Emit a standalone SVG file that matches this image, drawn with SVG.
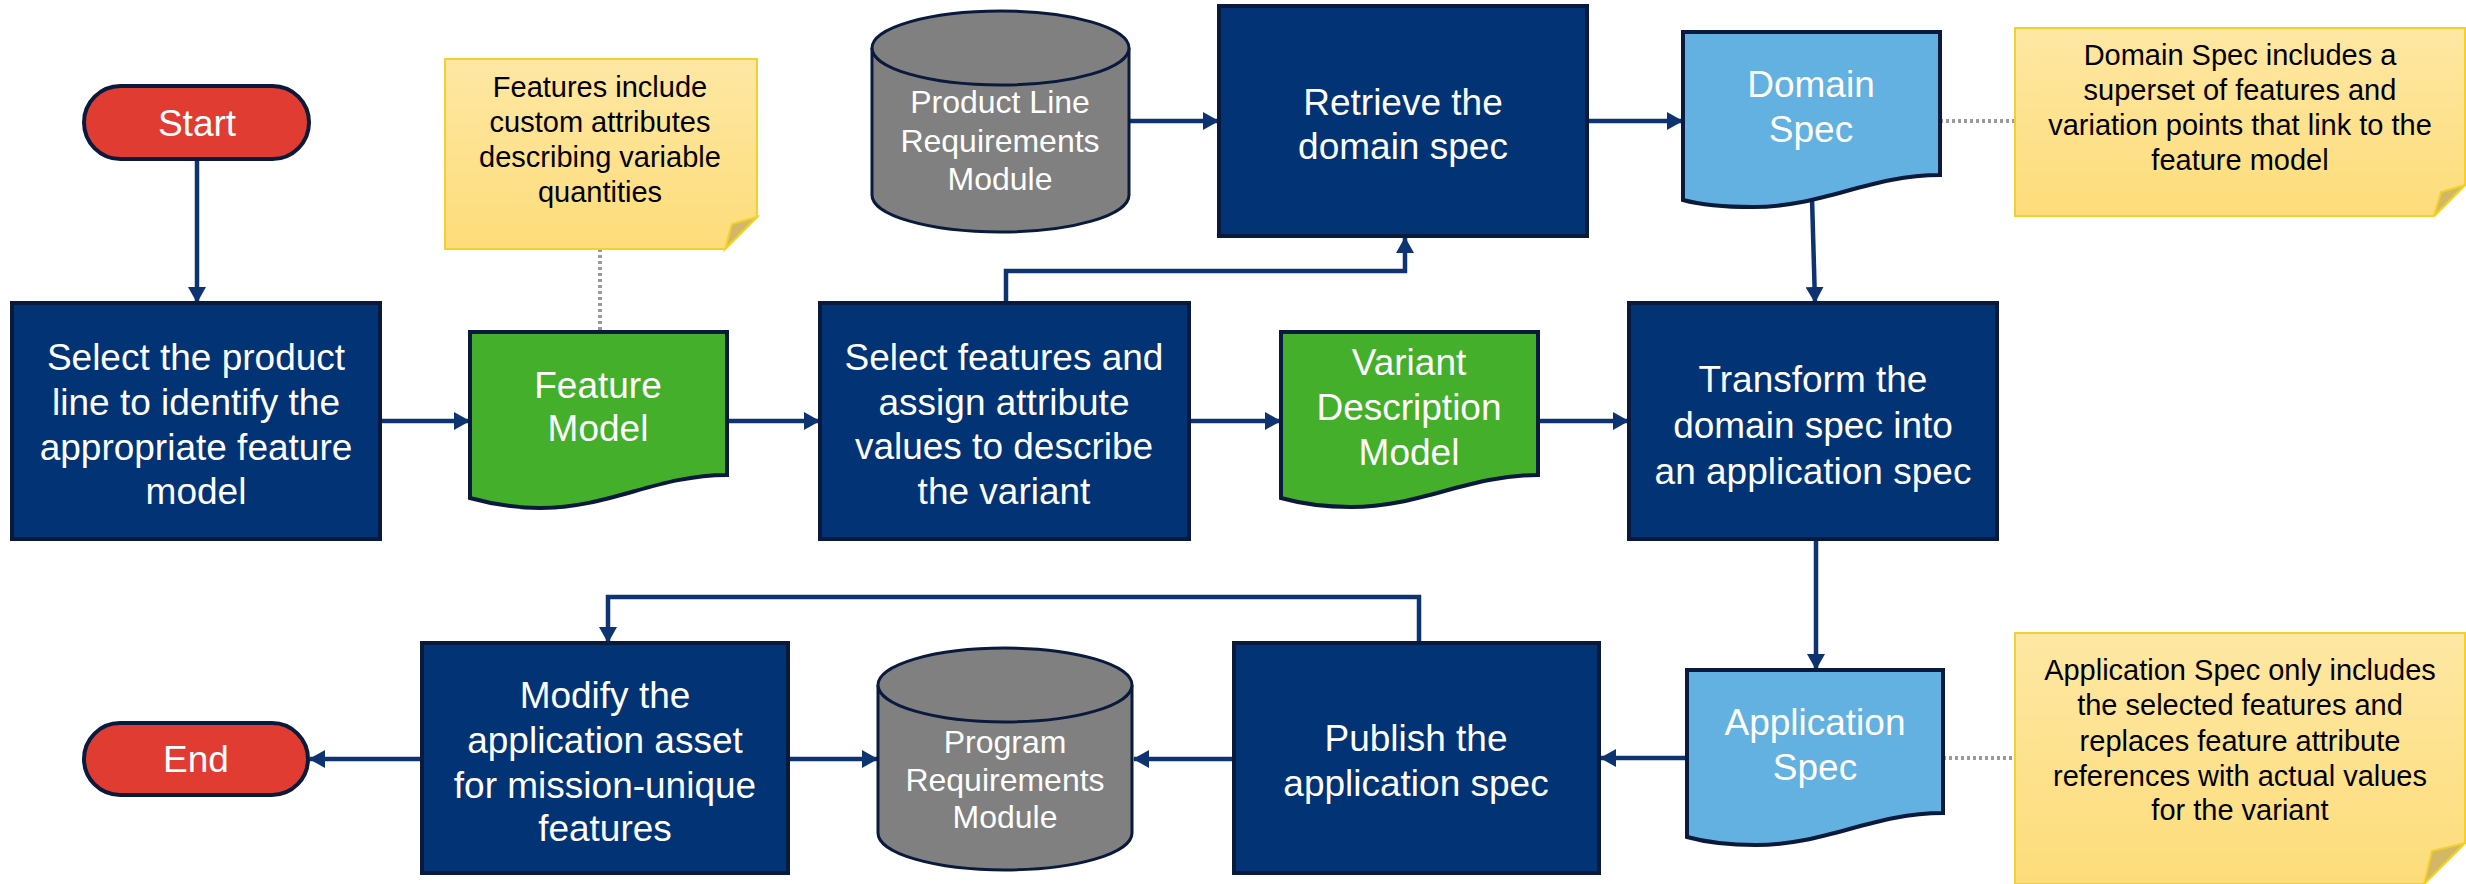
<svg xmlns="http://www.w3.org/2000/svg" width="2466" height="884" viewBox="0 0 2466 884">
<defs>
<linearGradient id="noteGrad" x1="0" y1="0" x2="0" y2="1">
<stop offset="0" stop-color="#FDE7A3"/>
<stop offset="1" stop-color="#FDDD7A"/>
</linearGradient>
<marker id="arr" markerUnits="userSpaceOnUse" markerWidth="16" markerHeight="18" viewBox="0 0 16 18" refX="15" refY="9" orient="auto">
<path d="M0,0 L16,9 L0,18 Z" fill="#0D3470"/>
</marker>
</defs>
<style>
.proc{fill:#023375;stroke:#0A1A3C;stroke-width:4}
.term{fill:#E03C31;stroke:#0A1A3C;stroke-width:4}
.docg{fill:#44AF2B;stroke:#0A1A3C;stroke-width:4}
.docb{fill:#62B1E0;stroke:#0A1A3C;stroke-width:4}
.cyl{fill:#808080;stroke:#0A1A3C;stroke-width:3}
.note{fill:url(#noteGrad);stroke:#F3D02E;stroke-width:2}
.fold{fill:#D2B866;stroke:#F3D02E;stroke-width:2}
.conn{fill:none;stroke:#0D3470;stroke-width:4.5;marker-end:url(#arr)}
.dot{fill:none;stroke:#9A9A9A;stroke-width:4;stroke-dasharray:3 3}
text{font-family:"Liberation Sans",Arial,sans-serif;text-anchor:middle;dominant-baseline:central}
.w{fill:#FFFFFF;font-size:37px}
.wc{fill:#FFFFFF;font-size:32px}
.k{fill:#000000;font-size:29px}
</style>

<g id="connectors">
<path class="conn" d="M197,159 V302"/>
<path class="conn" d="M380,421 H469"/>
<path class="conn" d="M727,421 H819"/>
<path class="conn" d="M1189,421 H1280"/>
<path class="conn" d="M1538,421 H1628"/>
<path class="conn" d="M1006,303 V271 H1405 V238"/>
<path class="conn" d="M1129,121 H1218"/>
<path class="conn" d="M1587,121 H1682"/>
<path class="conn" d="M1812,198 L1815,302"/>
<path class="conn" d="M1816,539 V669"/>
<path class="conn" d="M1687,758 H1601"/>
<path class="conn" d="M1234,759 H1134"/>
<path class="conn" d="M1419,643 V597 H608 V642"/>
<path class="conn" d="M788,759 H877"/>
<path class="conn" d="M422,759 H310"/>
<path class="dot" d="M600,249 V332"/>
<path class="dot" d="M1940,121 H2015"/>
<path class="dot" d="M1943,758 H2015"/>
</g>

<g id="start">
<rect class="term" x="84" y="86" width="225" height="73" rx="36.5"/>
<text class="w" x="197" y="123">Start</text>
</g>

<g id="select-product-line">
<rect class="proc" x="12" y="303" width="368" height="236"/>
<text class="w" x="196" y="357">Select the product</text>
<text class="w" x="196" y="402">line to identify the</text>
<text class="w" x="196" y="447">appropriate feature</text>
<text class="w" x="196" y="491">model</text>
</g>

<g id="feature-note">
<path class="note" d="M445,59 H757 V217 L725,249 H445 Z"/>
<path class="fold" d="M757,217 L732,224 L725,249 Z"/>
<text class="k" x="600" y="87">Features include</text>
<text class="k" x="600" y="122">custom attributes</text>
<text class="k" x="600" y="157">describing variable</text>
<text class="k" x="600" y="192">quantities</text>
</g>

<g id="feature-model">
<path class="docg" d="M470,332 H727 V475 C657,475 610,508 540,508 C510,508 488,503 470,498 Z"/>
<text class="w" x="598" y="385">Feature</text>
<text class="w" x="598" y="428">Model</text>
</g>

<g id="select-features">
<rect class="proc" x="820" y="303" width="369" height="236"/>
<text class="w" x="1004" y="357">Select features and</text>
<text class="w" x="1004" y="402">assign attribute</text>
<text class="w" x="1004" y="446">values to describe</text>
<text class="w" x="1004" y="491">the variant</text>
</g>

<g id="product-line-module">
<path class="cyl" d="M872,48 V195 A128.5,37 0 0 0 1129,195 V48 A128.5,37 0 0 0 872,48 Z"/>
<path class="cyl" d="M872,48 A128.5,37 0 0 0 1129,48" fill="none"/>
<text class="wc" x="1000" y="102">Product Line</text>
<text class="wc" x="1000" y="141">Requirements</text>
<text class="wc" x="1000" y="179">Module</text>
</g>

<g id="retrieve-domain-spec">
<rect class="proc" x="1219" y="6" width="368" height="230"/>
<text class="w" x="1403" y="102">Retrieve the</text>
<text class="w" x="1403" y="146">domain spec</text>
</g>

<g id="domain-spec">
<path class="docb" d="M1683,32 H1940 V175 C1870,175 1823,207 1753,207 C1723,207 1701,205 1683,200 Z"/>
<text class="w" x="1811" y="84">Domain</text>
<text class="w" x="1811" y="129">Spec</text>
</g>

<g id="domain-note">
<path class="note" d="M2015,28 H2465 V185 L2434,216 H2015 Z"/>
<path class="fold" d="M2465,185 L2441,192 L2434,216 Z"/>
<text class="k" x="2240" y="55">Domain Spec includes a</text>
<text class="k" x="2240" y="90">superset of features and</text>
<text class="k" x="2240" y="125">variation points that link to the</text>
<text class="k" x="2240" y="160">feature model</text>
</g>

<g id="variant-model">
<path class="docg" d="M1281,332 H1538 V475 C1468,475 1421,507 1351,507 C1321,507 1299,503 1281,498 Z"/>
<text class="w" x="1409" y="362">Variant</text>
<text class="w" x="1409" y="407">Description</text>
<text class="w" x="1409" y="452">Model</text>
</g>

<g id="transform">
<rect class="proc" x="1629" y="303" width="368" height="236"/>
<text class="w" x="1813" y="379">Transform the</text>
<text class="w" x="1813" y="425">domain spec into</text>
<text class="w" x="1813" y="471">an application spec</text>
</g>

<g id="application-spec">
<path class="docb" d="M1687,670 H1943 V813 C1873,813 1826,845 1756,845 C1726,845 1705,842 1687,837 Z"/>
<text class="w" x="1815" y="722">Application</text>
<text class="w" x="1815" y="767">Spec</text>
</g>

<g id="application-note">
<path class="note" d="M2015,633 H2465 V843 L2424,884 H2015 Z"/>
<path class="fold" d="M2465,843 L2432,851 L2424,884 Z"/>
<text class="k" x="2240" y="670">Application Spec only includes</text>
<text class="k" x="2240" y="705">the selected features and</text>
<text class="k" x="2240" y="741">replaces feature attribute</text>
<text class="k" x="2240" y="776">references with actual values</text>
<text class="k" x="2240" y="810">for the variant</text>
</g>

<g id="publish">
<rect class="proc" x="1234" y="643" width="365" height="230"/>
<text class="w" x="1416" y="738">Publish the</text>
<text class="w" x="1416" y="783">application spec</text>
</g>

<g id="program-module">
<path class="cyl" d="M878,685 V833 A127,37 0 0 0 1132,833 V685 A127,37 0 0 0 878,685 Z"/>
<path class="cyl" d="M878,685 A127,37 0 0 0 1132,685" fill="none"/>
<text class="wc" x="1005" y="742">Program</text>
<text class="wc" x="1005" y="780">Requirements</text>
<text class="wc" x="1005" y="817">Module</text>
</g>

<g id="modify">
<rect class="proc" x="422" y="643" width="366" height="230"/>
<text class="w" x="605" y="695">Modify the</text>
<text class="w" x="605" y="740">application asset</text>
<text class="w" x="605" y="785">for mission-unique</text>
<text class="w" x="605" y="828">features</text>
</g>

<g id="end">
<rect class="term" x="84" y="723" width="224" height="72" rx="36"/>
<text class="w" x="196" y="759">End</text>
</g>
</svg>
